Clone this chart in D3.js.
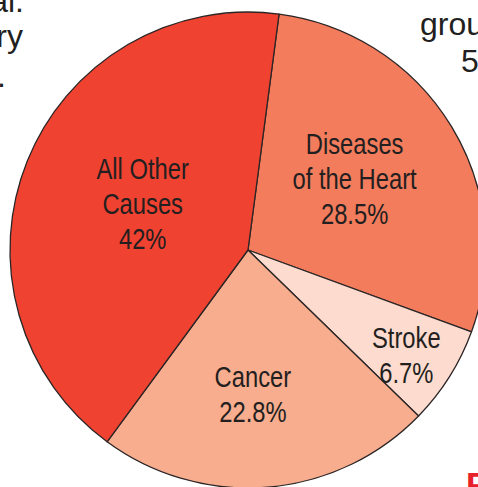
<!DOCTYPE html>
<html>
<head>
<meta charset="utf-8">
<script src="https://cdn.jsdelivr.net/npm/d3@7"></script>
<style>
  html, body { margin: 0; padding: 0; background: #fff; overflow: hidden; }
  svg { display: block; }
</style>
</head>
<body>
<svg id="chart" width="478" height="487"></svg>
<script>
// slice data, clockwise from the top
var causes = ["Diseases of the Heart", "Stroke", "Cancer", "All Other Causes"];
var shares = [28.5, 6.7, 22.8, 42];
var labelLines = [
    ["Diseases", "of the Heart", "28.5%"],
    ["Stroke", "6.7%"],
    ["Cancer", "22.8%"],
    ["All Other", "Causes", "42%"]
];
var sliceColors = ["#f27c5c", "#fddccf", "#f8ad8e", "#ef4230"];

// layout
var width = 478, height = 487;
var cx = 248, cy = 250, radius = 238;
var startDeg = 7.5;
var lineGap = 35;
var narrow = 0.82; // squeeze Liberation Sans to look like a condensed face
// where each label sits: radius from centre, small turn from the slice middle
var labelRadius = [128, 190, 145, 115];
var labelTurn = [-2.4, 1.4, 2.8, 1.8];

var svg = d3.select("#chart");

// bits of the surrounding page text, cut by the frame
var page = svg.append("g")
    .attr("font-family", "'Liberation Sans', Arial, sans-serif")
    .attr("font-size", 32)
    .attr("fill", "#231f20");
page.append("text").attr("x", 24).attr("y", 12).attr("text-anchor", "end").text("al.");
page.append("text").attr("x", 23).attr("y", 47).attr("text-anchor", "end").text("ry");
page.append("text").attr("x", 6).attr("y", 87).attr("text-anchor", "end").text(".");
page.append("text").attr("x", 420).attr("y", 35).text("group");
page.append("text").attr("x", 461).attr("y", 72).text("5");
svg.append("text")
    .attr("x", 466).attr("y", 496)
    .attr("font-family", "'Liberation Sans', Arial, sans-serif")
    .attr("font-weight", "bold")
    .attr("font-size", 34)
    .attr("fill", "#e8202a")
    .text("P");

var pie = d3.pie()
    .sort(null)
    .value(function (d) { return d; })
    .startAngle(startDeg * Math.PI / 180)
    .endAngle((startDeg + 360) * Math.PI / 180);

var arcs = pie(shares);
var arc = d3.arc().innerRadius(0).outerRadius(radius);

var g = svg.append("g").attr("transform", "translate(" + cx + "," + cy + ")");

g.selectAll("path")
    .data(arcs)
    .join("path")
    .attr("d", arc)
    .attr("fill", function (d, i) { return sliceColors[i]; })
    .attr("stroke", "#2b2526")
    .attr("stroke-width", 1.3)
    .attr("stroke-linejoin", "round");

g.selectAll("g.lab")
    .data(arcs)
    .join("g")
    .attr("class", "lab")
    .attr("transform", function (d, i) {
        var a = (d.startAngle + d.endAngle) / 2 + labelTurn[i] * Math.PI / 180;
        var x = labelRadius[i] * Math.sin(a);
        var y = -labelRadius[i] * Math.cos(a);
        return "translate(" + x + "," + y + ") scale(" + narrow + ",1)";
    })
    .append("text")
    .attr("font-family", "'Liberation Sans', Arial, sans-serif")
    .attr("font-size", 29)
    .attr("fill", "#231f20")
    .attr("text-anchor", "middle")
    .each(function (d, i) {
        var lines = labelLines[i];
        d3.select(this).selectAll("tspan")
            .data(lines)
            .join("tspan")
            .attr("x", 0)
            .attr("y", function (t, j) { return (j - (lines.length - 1) / 2) * lineGap + 10; })
            .text(function (t) { return t; });
    });
</script>
</body>
</html>
